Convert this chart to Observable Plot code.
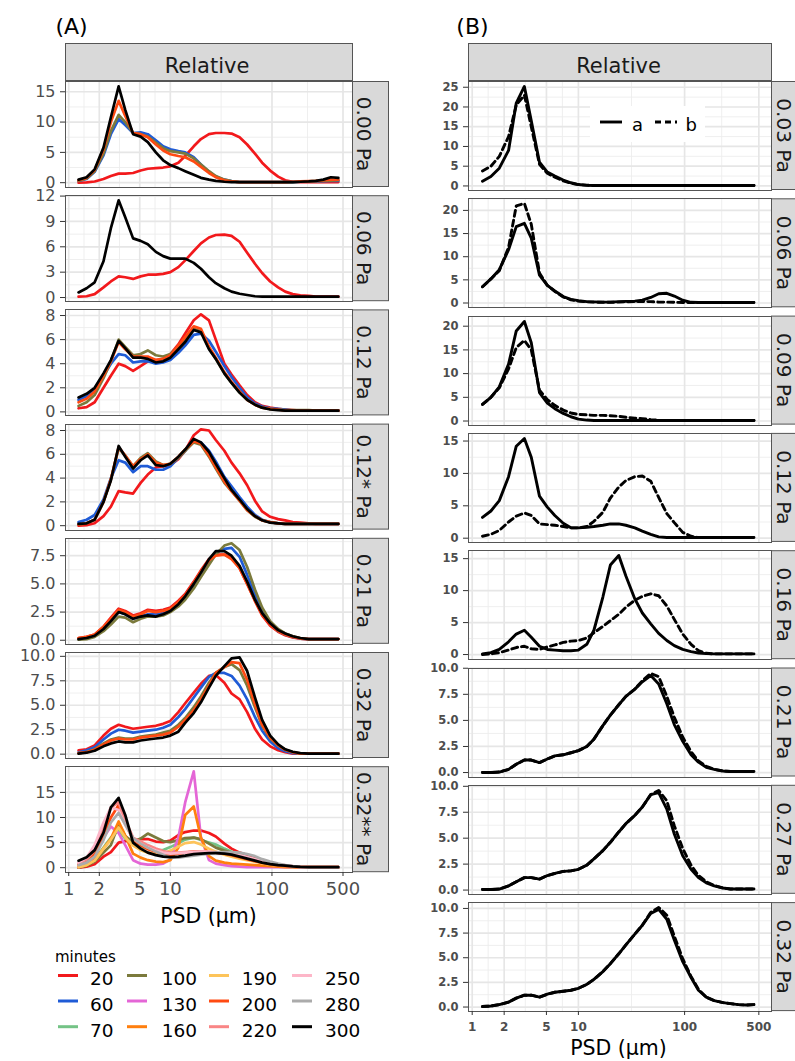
<!DOCTYPE html>
<html>
<head>
<meta charset="utf-8">
<script src="https://cdn.jsdelivr.net/npm/d3@7"></script>
<script src="https://cdn.jsdelivr.net/npm/@observablehq/plot@0.6"></script>
<style>
html,body{margin:0;padding:0;background:#fff;}
#fig{position:relative;width:795px;height:1061px;overflow:hidden;background:#fff;}
</style>
</head>
<body>
<div id="fig"></div>
<script>
// ---------------- DATA ----------------
const sizes = [1.25,1.5,1.8,2.2,2.6, 3.1,3.6,4.3,5.1,6, 7.2,8.5,10,12,14, 17,20,24,28,34, 40,48,57,68,80, 96,115,135,160,190, 230,270,320,380,450];
const xTicks = [1,2,5,10,100,500];

const minuteLabels = ["20","60","70","100","130","160","190","200","220","250","280","300"];
const minuteColors = ["#F2191C","#1F5BD6","#74C386","#7B7A3C","#E466D6","#FF7F0E","#FDC45A","#FF4A12","#F98585","#FDB6C8","#ABABAB","#000000"];

const leftStrips = ["0.00 Pa","0.06 Pa","0.12 Pa","0.12* Pa","0.21 Pa","0.32 Pa","0.32** Pa"];
const rightStrips = ["0.03 Pa","0.06 Pa","0.09 Pa","0.12 Pa","0.16 Pa","0.21 Pa","0.27 Pa","0.32 Pa"];

const leftTicks = [[0,5,10,15],[0,3,6,9,12],[0,2,4,6,8],[0,2,4,6,8],[0,2.5,5,7.5],[0,2.5,5,7.5,10],[0,5,10,15]];
const rightTicks = [[0,5,10,15,20,25],[0,5,10,15,20],[0,5,10,15,20],[0,5,10,15],[0,5,10,15],[0,2.5,5,7.5,10],[0,2.5,5,7.5,10],[0,2.5,5,7.5,10]];

// (A) panels: minutes -> relative volume (%)
const p000 = {
  "20":  [0.0,0.05,0.2,0.6,1.1, 1.5,1.5,1.6,2.0,2.3, 2.4,2.5,2.7,3.3,4.4, 6.0,7.2,8.0,8.2,8.2, 8.1,7.5,6.3,4.8,3.3, 2.0,1.0,0.4,0.15,0.1, 0.1,0.1,0.1,0.1,0.1],
  "60":  [0.3,0.6,1.8,4.5,8.0, 10.5,9.5,8.2,8.3,8.0, 7.0,6.0,5.5,5.2,5.0, 4.2,3.0,1.8,1.0,0.5, 0.25,0.1,0.1,0.1,0.1, 0.1,0.1,0.1,0.1,0.15, 0.2,0.2,0.25,0.3,0.3],
  "100": [0.3,0.7,1.9,4.8,8.5, 11.2,10.0,8.2,8.0,7.6, 6.6,5.7,5.2,5.0,4.8, 4.0,3.0,1.9,1.1,0.5, 0.25,0.1,0.1,0.1,0.1, 0.1,0.1,0.1,0.1,0.15, 0.2,0.25,0.3,0.35,0.4],
  "200": [0.4,0.8,2.1,5.5,10.0, 13.5,11.0,8.2,8.0,7.5, 6.3,5.3,4.7,4.4,4.2, 3.5,2.6,1.6,0.9,0.4, 0.2,0.1,0.1,0.1,0.1, 0.1,0.1,0.1,0.15,0.2, 0.25,0.3,0.4,0.5,0.5],
  "300": [0.5,0.9,2.2,5.8,10.8, 15.9,12.0,8.0,7.6,6.7, 5.0,3.7,2.9,2.4,1.9, 1.3,0.8,0.5,0.3,0.15, 0.1,0.1,0.1,0.1,0.1, 0.1,0.1,0.1,0.1,0.15, 0.2,0.3,0.5,0.9,0.8]
};
const p006 = {
  "20":  [0.1,0.15,0.4,1.2,1.9, 2.5,2.4,2.2,2.5,2.7, 2.7,2.8,3.0,3.6,4.4, 5.5,6.4,7.1,7.4,7.45, 7.3,6.6,5.3,4.0,2.9, 1.9,1.2,0.7,0.4,0.25, 0.2,0.1,0.1,0.1,0.1],
  "300": [0.6,1.1,1.8,4.3,8.2, 11.5,9.5,7.0,6.7,6.3, 5.4,4.9,4.6,4.6,4.6, 4.1,3.4,2.4,1.7,1.1, 0.7,0.45,0.3,0.15,0.1, 0.1,0.1,0.1,0.1,0.1, 0.1,0.1,0.1,0.1,0.1]
};
const p012 = {
  "20":  [0.3,0.4,0.8,2.0,3.0, 4.0,3.8,3.4,3.8,4.2, 4.3,4.4,4.8,5.6,6.5, 7.6,8.1,7.6,6.0,4.0, 3.1,2.2,1.4,0.8,0.5, 0.35,0.25,0.2,0.15,0.1, 0.1,0.1,0.1,0.1,0.1],
  "60":  [1.0,1.3,1.8,3.0,4.0, 4.8,4.7,4.1,4.2,4.2, 4.0,4.1,4.3,4.9,5.5, 6.4,6.5,5.9,5.0,3.8, 2.9,2.0,1.2,0.7,0.45, 0.3,0.25,0.2,0.1,0.1, 0.1,0.1,0.1,0.1,0.1],
  "100": [0.5,0.8,1.4,2.8,4.2, 6.0,5.4,4.7,4.8,5.1, 4.7,4.6,4.8,5.4,6.0, 6.9,6.7,5.3,4.4,3.2, 2.4,1.6,1.0,0.6,0.35, 0.25,0.2,0.15,0.15,0.15, 0.15,0.1,0.1,0.1,0.1],
  "200": [0.8,1.1,1.7,3.0,4.2, 5.8,5.2,4.6,4.6,4.6, 4.3,4.4,4.7,5.5,6.2, 7.1,6.9,5.4,4.5,3.3, 2.5,1.7,1.0,0.6,0.35, 0.25,0.2,0.1,0.1,0.1, 0.1,0.1,0.1,0.1,0.1],
  "300": [1.2,1.5,2.0,3.2,4.3, 5.9,5.3,4.5,4.5,4.4, 4.1,4.2,4.5,5.2,5.8, 6.8,6.6,5.2,4.4,3.2, 2.4,1.6,1.0,0.6,0.35, 0.2,0.15,0.1,0.1,0.1, 0.1,0.1,0.1,0.1,0.1]
};
const p012s = {
  "20":  [0.0,0.05,0.2,0.8,1.6, 2.9,2.8,2.7,3.6,4.3, 4.9,5.0,5.1,5.6,6.3, 7.6,8.1,8.0,7.2,6.3, 5.3,4.4,3.4,2.1,1.2, 0.75,0.55,0.45,0.3,0.25, 0.2,0.15,0.15,0.15,0.15],
  "60":  [0.3,0.5,0.9,2.2,4.0, 5.5,5.3,4.5,5.0,5.0, 4.7,4.7,5.0,5.7,6.3, 7.1,7.0,6.3,5.4,4.1, 3.3,2.4,1.6,0.9,0.5, 0.3,0.2,0.15,0.15,0.15, 0.15,0.15,0.15,0.15,0.15],
  "100": [0.1,0.2,0.5,2.0,3.9, 6.5,5.9,5.0,5.7,6.1, 5.4,5.1,5.2,5.7,6.3, 7.0,6.8,5.8,4.8,3.6, 2.9,2.1,1.3,0.75,0.45, 0.3,0.2,0.15,0.15,0.15, 0.15,0.15,0.15,0.15,0.15],
  "200": [0.1,0.2,0.5,2.0,3.9, 6.6,5.9,5.0,5.6,6.0, 5.3,5.1,5.2,5.8,6.4, 7.1,6.9,5.9,4.9,3.7, 2.9,2.1,1.3,0.8,0.45, 0.3,0.2,0.15,0.15,0.15, 0.15,0.15,0.15,0.15,0.15],
  "300": [0.15,0.2,0.5,2.0,3.8, 6.7,5.8,4.8,5.5,5.9, 5.1,5.0,5.2,5.8,6.4, 7.3,7.0,6.2,5.2,4.0, 3.0,2.2,1.4,0.8,0.45, 0.25,0.2,0.15,0.15,0.15, 0.15,0.15,0.15,0.15,0.15]
};
const p021 = {
  "20":  [0.2,0.3,0.5,1.2,2.0, 2.8,2.6,2.2,2.4,2.7, 2.6,2.7,2.9,3.5,4.1, 5.2,6.2,7.2,7.6,7.6, 7.3,6.4,5.0,3.5,2.2, 1.3,0.75,0.45,0.25,0.15, 0.1,0.1,0.1,0.1,0.1],
  "60":  [0.1,0.2,0.4,1.0,1.7, 2.5,2.3,1.9,2.1,2.3, 2.3,2.4,2.6,3.2,3.8, 4.9,5.8,7.0,7.8,8.1, 8.2,7.4,5.8,4.0,2.6, 1.5,0.8,0.5,0.3,0.15, 0.1,0.1,0.1,0.1,0.1],
  "100": [0.05,0.1,0.3,0.8,1.4, 2.1,2.0,1.6,1.9,2.1, 2.1,2.2,2.5,3.0,3.6, 4.6,5.6,6.7,7.6,8.4, 8.6,8.0,6.5,4.5,2.9, 1.7,1.0,0.6,0.35,0.2, 0.1,0.1,0.1,0.1,0.1],
  "200": [0.2,0.3,0.5,1.2,1.9, 2.7,2.5,2.1,2.3,2.6, 2.5,2.6,2.8,3.4,4.0, 5.1,6.1,7.1,7.5,7.6, 7.2,6.4,5.0,3.5,2.3, 1.4,0.8,0.5,0.3,0.15, 0.1,0.1,0.1,0.1,0.1],
  "300": [0.1,0.2,0.4,1.0,1.7, 2.5,2.3,1.9,2.1,2.2, 2.1,2.3,2.6,3.2,3.9, 5.0,6.0,7.2,7.9,7.9, 7.5,6.6,5.2,3.6,2.4, 1.5,0.9,0.6,0.35,0.2, 0.1,0.1,0.1,0.1,0.1]
};
const p032 = {
  "20":  [0.4,0.5,0.9,1.9,2.6, 3.0,2.8,2.6,2.7,2.8, 2.9,3.1,3.4,4.3,5.2, 6.3,7.2,8.0,8.1,7.3, 6.2,5.6,4.3,2.6,1.5, 0.8,0.4,0.2,0.05,0.05, 0.05,0.05,0.05,0.05,0.05],
  "60":  [0.2,0.4,0.7,1.5,2.1, 2.5,2.4,2.2,2.3,2.4, 2.5,2.7,3.0,3.8,4.6, 5.8,6.8,7.9,8.3,8.3, 8.0,7.0,5.6,3.8,2.4, 1.3,0.6,0.3,0.1,0.05, 0.05,0.05,0.05,0.05,0.05],
  "100": [0.1,0.2,0.5,1.1,1.5, 1.7,1.6,1.6,1.8,1.9, 2.0,2.2,2.4,3.0,3.7, 4.8,5.9,7.3,8.3,8.9, 9.2,8.6,7.0,4.8,2.9, 1.6,0.9,0.45,0.2,0.05, 0.05,0.05,0.05,0.05,0.05],
  "200": [0.1,0.2,0.45,1.0,1.4, 1.6,1.5,1.5,1.7,1.8, 1.9,2.0,2.2,2.8,3.5, 4.5,5.6,7.0,8.3,8.9, 9.4,9.3,7.6,5.1,3.0, 1.7,0.9,0.45,0.2,0.05, 0.05,0.05,0.05,0.05,0.05],
  "300": [0.05,0.15,0.35,0.8,1.1, 1.3,1.2,1.2,1.4,1.5, 1.6,1.7,1.9,2.3,3.2, 4.2,5.3,6.8,8.0,9.0, 9.8,9.9,8.5,5.8,3.5, 1.9,1.0,0.5,0.25,0.1, 0.05,0.05,0.05,0.05,0.05]
};
const p032ss = {
  "20":  [0.0,0.2,0.7,2.2,3.1, 5.0,5.3,5.4,5.7,5.7, 5.2,5.1,5.4,6.5,7.1, 7.4,7.4,6.9,6.2,4.8, 3.8,3.0,2.5,1.9,1.4, 1.0,0.6,0.35,0.2,0.1, 0.1,0.1,0.1,0.1,0.1],
  "70":  [0.1,0.6,1.6,4.0,6.0, 7.4,5.8,4.8,4.2,3.8, 3.5,3.5,4.1,4.9,5.6, 6.0,5.5,5.0,4.6,3.8, 3.2,2.5,2.0,1.5,1.1, 0.7,0.4,0.25,0.15,0.1, 0.1,0.1,0.1,0.1,0.1],
  "100": [0.0,0.4,1.2,3.0,4.5, 8.7,6.3,5.1,5.8,6.8, 6.0,5.3,5.1,5.5,5.9, 6.0,5.7,4.8,4.0,3.4, 3.0,2.4,2.0,1.6,1.2, 0.8,0.5,0.3,0.2,0.1, 0.1,0.1,0.1,0.1,0.1],
  "130": [0.1,0.6,2.0,6.0,8.2, 6.9,4.5,1.5,0.8,0.6, 0.6,0.8,1.6,6.0,13.0, 19.2,6.0,1.5,0.8,0.5, 0.3,0.2,0.1,0.1,0.1, 0.1,0.1,0.1,0.1,0.1, 0.1,0.1,0.1,0.1,0.1],
  "160": [0.1,0.5,1.5,3.8,5.8, 9.2,6.4,2.8,2.0,1.5, 1.2,1.1,1.5,4.0,10.5, 12.2,6.0,2.3,1.4,1.0, 0.8,0.7,0.6,0.5,0.4, 0.3,0.2,0.1,0.1,0.1, 0.1,0.1,0.1,0.1,0.1],
  "190": [0.1,0.5,1.4,3.8,5.6, 8.0,6.0,4.4,3.5,3.0, 2.7,2.8,3.4,4.2,4.9, 5.1,4.6,3.8,3.2,2.6, 2.2,1.8,1.5,1.2,0.9, 0.6,0.4,0.25,0.15,0.1, 0.1,0.1,0.1,0.1,0.1],
  "200": [0.6,1.2,2.8,6.5,10.0, 12.5,9.0,5.5,4.5,3.7, 3.2,2.8,2.6,2.8,3.0, 3.2,3.2,3.1,3.0,2.8, 2.5,2.1,1.7,1.3,1.0, 0.7,0.45,0.3,0.2,0.1, 0.1,0.1,0.1,0.1,0.1],
  "220": [0.8,1.6,3.5,8.0,12.0, 13.0,9.5,6.0,5.2,4.5, 3.8,3.3,3.0,3.0,3.1, 3.2,3.2,3.1,3.0,2.9, 2.7,2.4,2.0,1.6,1.2, 0.9,0.6,0.4,0.25,0.1, 0.1,0.1,0.1,0.1,0.1],
  "250": [1.0,2.0,4.5,9.0,12.0, 11.5,8.5,5.8,4.8,4.0, 3.4,3.0,2.8,2.9,3.0, 3.1,3.2,3.2,3.1,3.0, 2.8,2.5,2.1,1.7,1.3, 1.0,0.7,0.5,0.3,0.1, 0.1,0.1,0.1,0.1,0.1],
  "280": [0.5,1.0,2.2,5.5,9.0, 10.9,8.6,5.9,4.8,4.0, 3.2,2.6,2.0,2.0,2.2, 2.4,2.6,2.8,3.0,3.1, 3.1,3.0,2.7,2.3,1.7, 1.2,0.8,0.5,0.3,0.15, 0.1,0.1,0.1,0.1,0.1],
  "300": [1.4,2.1,3.5,7.0,12.0, 13.9,10.5,5.0,3.8,3.0, 2.5,2.2,2.1,2.2,2.4, 2.7,2.8,2.9,2.9,2.8, 2.6,2.2,1.8,1.4,1.0, 0.7,0.5,0.4,0.25,0.15, 0.1,0.1,0.1,0.1,0.1]
};

// (B) panels: series a (solid) and b (dashed)
const q003a = [1.2,2.4,4.5,9.0,21.0, 25.2,16.5,6.0,3.5,2.5, 1.5,0.8,0.35,0.15,0.1, 0.1,0.1,0.1,0.1,0.1, 0.1,0.1,0.1,0.1,0.1, 0.1,0.1,0.1,0.1,0.1, 0.1,0.1,0.1,0.1,0.1];
const q003b = [3.8,5.0,7.5,12.5,20.5, 23.0,15.0,5.5,3.2,2.2, 1.3,0.7,0.35,0.2,0.1, 0.1,0.1,0.1,0.1,0.1, 0.1,0.1,0.1,0.1,0.1, 0.1,0.1,0.1,0.1,0.1, 0.1,0.1,0.1,0.1,0.1];
const q006a = [3.5,5.2,7.2,11.5,16.5, 17.2,14.0,6.0,3.8,2.6, 1.4,0.8,0.5,0.3,0.25, 0.2,0.2,0.3,0.35,0.4, 0.6,1.2,2.0,2.1,1.5, 0.6,0.15,0.1,0.1,0.1, 0.1,0.1,0.1,0.1,0.1];
const q006b = [3.5,5.2,7.0,12.0,21.0, 21.5,17.0,6.5,3.8,2.5, 1.3,0.7,0.4,0.25,0.2, 0.15,0.15,0.2,0.25,0.3, 0.3,0.3,0.2,0.2,0.15, 0.1,0.1,0.1,0.1,0.1, 0.1,0.1,0.1,0.1,0.1];
const q009a = [3.5,5.0,7.2,12.0,19.0, 21.0,16.5,6.0,3.8,2.6, 1.6,0.9,0.4,0.2,0.1, 0.1,0.1,0.1,0.1,0.1, 0.1,0.1,0.1,0.1,0.1, 0.1,0.1,0.1,0.1,0.1, 0.1,0.1,0.1,0.1,0.1];
const q009b = [3.5,5.0,7.0,11.0,15.5, 17.0,15.0,6.5,4.5,3.3, 2.3,1.7,1.4,1.3,1.2, 1.2,1.1,1.0,0.8,0.6, 0.5,0.3,0.15,0.1,0.1, 0.1,0.1,0.1,0.1,0.1, 0.1,0.1,0.1,0.1,0.1];
const q012a = [3.2,4.2,5.8,9.5,14.2, 15.4,12.5,6.5,4.8,3.5, 2.3,1.6,1.6,1.7,1.8, 2.0,2.2,2.2,2.0,1.6, 1.1,0.6,0.2,0.1,0.1, 0.1,0.1,0.1,0.1,0.1, 0.1,0.1,0.1,0.1,0.1];
const q012b = [0.3,0.6,1.2,2.5,3.4, 3.9,3.5,2.2,2.1,2.0, 1.8,1.6,1.6,1.8,2.6, 4.0,6.2,7.9,8.9,9.5, 9.6,8.8,6.3,3.8,2.4, 0.9,0.3,0.1,0.1,0.1, 0.1,0.1,0.1,0.1,0.1];
const q016a = [0.1,0.3,0.8,2.0,3.2, 3.8,2.7,1.3,0.8,0.7, 0.6,0.6,0.7,1.6,3.8, 9.0,14.0,15.5,12.3,8.7, 6.5,4.8,3.3,2.2,1.4, 0.8,0.45,0.25,0.15,0.1, 0.1,0.1,0.1,0.1,0.1];
const q016b = [0.0,0.1,0.3,0.7,1.1, 1.3,0.9,0.8,1.2,1.5, 1.9,2.1,2.2,2.6,3.4, 4.4,5.3,6.3,7.4,8.5, 9.1,9.5,9.2,7.6,5.5, 3.2,1.6,0.6,0.2,0.1, 0.1,0.1,0.1,0.1,0.1];
const q021a = [0.0,0.0,0.05,0.3,0.8, 1.2,1.2,0.95,1.3,1.6, 1.7,1.9,2.1,2.5,3.2, 4.5,5.5,6.5,7.3,8.0, 8.7,9.3,8.5,6.6,4.6, 3.0,1.7,1.0,0.5,0.3, 0.15,0.1,0.1,0.1,0.1];
const q021b = [0.0,0.0,0.05,0.3,0.8, 1.2,1.2,0.95,1.3,1.6, 1.7,1.9,2.1,2.5,3.2, 4.5,5.5,6.5,7.3,8.0, 8.8,9.5,9.2,7.3,5.3, 3.4,2.0,1.1,0.6,0.3, 0.15,0.1,0.1,0.1,0.1];
const q027a = [0.05,0.05,0.1,0.4,0.8, 1.2,1.2,1.05,1.4,1.6, 1.8,1.85,2.0,2.4,3.0, 3.8,4.6,5.6,6.4,7.2, 8.0,9.2,9.4,7.8,5.4, 3.3,2.0,1.2,0.7,0.4, 0.2,0.1,0.1,0.1,0.1];
const q027b = [0.05,0.05,0.1,0.4,0.8, 1.2,1.2,1.05,1.4,1.6, 1.8,1.85,2.0,2.4,3.0, 3.8,4.6,5.6,6.4,7.2, 8.0,9.2,9.6,8.6,6.2, 4.0,2.4,1.4,0.8,0.45, 0.2,0.1,0.1,0.1,0.1];
const q032a = [0.05,0.1,0.25,0.5,0.9, 1.2,1.2,1.0,1.3,1.5, 1.6,1.7,1.9,2.3,2.8, 3.6,4.4,5.4,6.3,7.4, 8.3,9.5,9.9,8.9,6.8, 4.6,3.0,1.7,1.0,0.65, 0.45,0.35,0.25,0.2,0.25];
const q032b = [0.05,0.1,0.25,0.5,0.9, 1.2,1.2,1.0,1.3,1.5, 1.6,1.7,1.9,2.3,2.8, 3.6,4.4,5.4,6.3,7.4, 8.3,9.6,10.1,9.3,7.2, 4.9,3.1,1.8,1.0,0.65, 0.45,0.35,0.25,0.2,0.25];

// ---------------- LAYOUT ----------------
const FONT = "'DejaVu Sans', sans-serif";
const fig = document.getElementById("fig");
const colorOf = Object.fromEntries(minuteLabels.map((m, i) => [m, minuteColors[i]]));

const L = {x: 0, w: 400, mL: 65, mR: 48, top0: 81, pitch: 114.2, h: 106, xDomain: [0.93, 620],
           lw: 2.7, yFont: 16, xFont: 18, weight: "normal", xPad: 6, stripX: 352, stripTextX: 364};
const R = {x: 400, w: 395, mL: 68, mR: 24, top0: 81, pitch: 117.3, h: 109, xDomain: [0.923, 658],
           lw: 2.9, yFont: 11.5, xFont: 12, weight: "bold", xPad: 7, stripX: 771, stripTextX: 784};

function xMinorOf(t) {
  const out = [];
  for (let i = 0; i < t.length - 1; i++) out.push(Math.sqrt(t[i] * t[i + 1]));
  return out;
}

function drawPanel(C, idx, series, ticks, bottom) {
  const rows = [];
  series.forEach(s => s.values.forEach((v, j) => rows.push({size: sizes[j], value: v, key: s.key})));
  const ext = d3.extent(rows, d => d.value);
  const pad = (ext[1] - ext[0]) * 0.05;
  const yDom = [ext[0] - pad, ext[1] + pad];
  const step = ticks[1] - ticks[0];
  const yMinor = [ticks[0] - step / 2, ...ticks.map(t => t + step / 2)].filter(v => v > yDom[0] && v < yDom[1]);
  const dec = ticks.some(t => !Number.isInteger(t)) ? 1 : 0;
  const fmt = d3.format(`.${dec}f`);
  const mB = bottom ? 40 : 0;
  const perPx = (yDom[1] - yDom[0]) / C.h;
  const marks = [
    Plot.gridX(xMinorOf(xTicks), {stroke: "#EDEDED", strokeOpacity: 1, strokeWidth: 0.9}),
    Plot.gridY(yMinor, {stroke: "#EDEDED", strokeOpacity: 1, strokeWidth: 0.9}),
    Plot.gridX(xTicks, {stroke: "#E6E6E6", strokeOpacity: 1, strokeWidth: 1.7}),
    Plot.gridY(ticks, {stroke: "#E6E6E6", strokeOpacity: 1, strokeWidth: 1.7}),
    ...series.map(s => Plot.line(rows.filter(r => r.key === s.key), {
      x: "size", y: "value", stroke: s.color, strokeWidth: C.lw, strokeDasharray: s.dash
    })),
    Plot.frame({stroke: "#555", strokeWidth: 1}),
    Plot.axisY(ticks, {tickSize: 5, tickPadding: 5, tickFormat: fmt, fontSize: C.yFont, fontWeight: C.weight,
                       fill: "#4D4D4D", stroke: "#333", label: null})
  ];
  if (bottom) {
    marks.push(Plot.ruleX(xTicks, {x: d => d, y1: yDom[0], y2: yDom[0] - 4 * perPx, stroke: "#333", strokeWidth: 1}));
    marks.push(Plot.text(xTicks, {x: d => d, y: yDom[0], text: d => String(d), lineAnchor: "top",
                                  dy: 4 + C.xPad, fontSize: C.xFont, fontWeight: C.weight, fill: "#4D4D4D"}));
  }
  const svg = Plot.plot({
    width: C.w, height: C.h + mB, marginLeft: C.mL, marginRight: C.mR, marginTop: 0, marginBottom: mB,
    x: {type: "log", domain: C.xDomain, axis: null, label: null},
    y: {domain: yDom, axis: null, label: null},
    style: {fontFamily: FONT, background: "transparent", overflow: "visible"},
    marks
  });
  const holder = document.createElement("div");
  holder.style.cssText = `position:absolute;left:${C.x}px;top:${C.top0 + idx * C.pitch}px;`;
  holder.appendChild(svg);
  fig.appendChild(holder);
}

// (A)
const leftPanels = [p000, p006, p012, p012s, p021, p032, p032ss];
leftPanels.forEach((p, i) => {
  const series = minuteLabels.filter(m => p[m]).map(m => ({key: m, values: p[m], color: colorOf[m]}));
  drawPanel(L, i, series, leftTicks[i], i === leftPanels.length - 1);
});

// (B)
const rightPanels = [[q003a, q003b], [q006a, q006b], [q009a, q009b], [q012a, q012b],
                     [q016a, q016b], [q021a, q021b], [q027a, q027b], [q032a, q032b]];
rightPanels.forEach((p, i) => {
  const series = [
    {key: "a", values: p[0], color: "#000"},
    {key: "b", values: p[1], color: "#000", dash: "6,4"}
  ];
  drawPanel(R, i, series, rightTicks[i], i === rightPanels.length - 1);
});

// ---------------- OVERLAY (strips, titles, legends) ----------------
const ov = d3.select(fig).append("svg")
  .attr("width", 795).attr("height", 1061)
  .style("position", "absolute").style("left", "0px").style("top", "0px")
  .style("font-family", FONT);

function strip(x, y, w, h) {
  ov.append("rect").attr("x", x + 0.5).attr("y", y + 0.5).attr("width", w - 1).attr("height", h - 1)
    .attr("fill", "#D9D9D9").attr("stroke", "#555").attr("stroke-width", 1);
}
strip(65, 43, 288, 38);
strip(468, 43, 304, 38);
ov.append("text").attr("x", 207).attr("y", 65).attr("dy", "0.36em").attr("text-anchor", "middle")
  .attr("font-size", 21).attr("fill", "#1A1A1A").text("Relative");
ov.append("text").attr("x", 618.5).attr("y", 65).attr("dy", "0.36em").attr("text-anchor", "middle")
  .attr("font-size", 21).attr("fill", "#1A1A1A").text("Relative");

function sideStrips(C, labels) {
  labels.forEach((lab, i) => {
    const top = C.top0 + i * C.pitch;
    strip(C.stripX, top, 37, C.h);
    ov.append("text")
      .attr("transform", `translate(${C.stripTextX},${top + C.h / 2}) rotate(90)`)
      .attr("dy", "0.36em").attr("text-anchor", "middle")
      .attr("font-size", 20).attr("fill", "#1A1A1A").text(lab);
  });
}
sideStrips(L, leftStrips);
sideStrips(R, rightStrips);

ov.append("text").attr("x", 71.5).attr("y", 26).attr("dy", "0.36em").attr("text-anchor", "middle")
  .attr("font-size", 22).attr("fill", "#000").text("(A)");
ov.append("text").attr("x", 472.5).attr("y", 26).attr("dy", "0.36em").attr("text-anchor", "middle")
  .attr("font-size", 22).attr("fill", "#000").text("(B)");

ov.append("text").attr("x", 208.5).attr("y", 915.5).attr("dy", "0.36em").attr("text-anchor", "middle")
  .attr("font-size", 20.5).attr("fill", "#000").text("PSD (μm)");
ov.append("text").attr("x", 618.5).attr("y", 1047.5).attr("dy", "0.36em").attr("text-anchor", "middle")
  .attr("font-size", 20.5).attr("fill", "#000").text("PSD (μm)");

ov.append("text").attr("x", 55).attr("y", 961.5).attr("font-size", 15).attr("fill", "#000").text("minutes");
const keyX = [58, 127, 209, 292];
const labX = [90, 161.7, 241.7, 325];
const keyY = [975.5, 1001, 1026.7];
const labY = [985, 1010.7, 1036.5];
minuteLabels.forEach((m, i) => {
  const c = Math.floor(i / 3), r = i % 3;
  ov.append("line").attr("x1", keyX[c]).attr("x2", keyX[c] + 20).attr("y1", keyY[r]).attr("y2", keyY[r])
    .attr("stroke", colorOf[m]).attr("stroke-width", 3);
  ov.append("text").attr("x", labX[c]).attr("y", labY[r]).attr("font-size", 18.5).attr("fill", "#000").text(m);
});

ov.append("rect").attr("x", 590).attr("y", 106).attr("width", 115).attr("height", 36).attr("fill", "#fff");
ov.append("line").attr("x1", 600).attr("x2", 622).attr("y1", 122).attr("y2", 122)
  .attr("stroke", "#000").attr("stroke-width", 2.9);
ov.append("text").attr("x", 632).attr("y", 130.5).attr("font-size", 18).attr("fill", "#000").text("a");
ov.append("line").attr("x1", 655).attr("x2", 677).attr("y1", 122).attr("y2", 122)
  .attr("stroke", "#000").attr("stroke-width", 2.9).attr("stroke-dasharray", "6,4");
ov.append("text").attr("x", 685.5).attr("y", 130.5).attr("font-size", 18).attr("fill", "#000").text("b");
</script>
</body>
</html>
